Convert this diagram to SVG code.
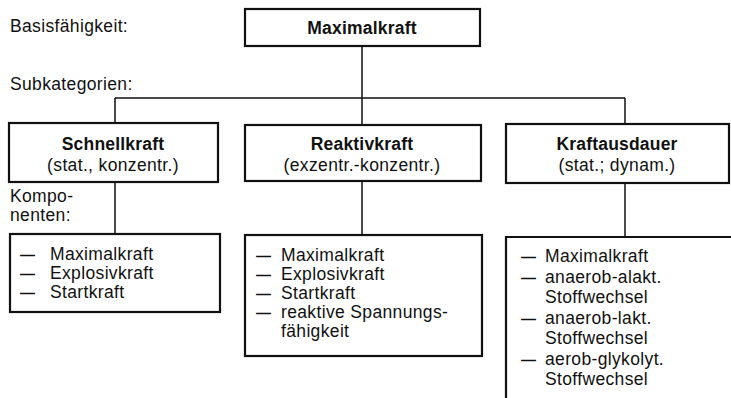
<svg xmlns="http://www.w3.org/2000/svg" width="731" height="398" viewBox="0 0 731 398">
<style>
text{font-family:"Liberation Sans",Arial,sans-serif;font-size:17.5px;fill:#111;letter-spacing:0.35px}
.b{font-weight:bold;text-anchor:middle;letter-spacing:0.2px}
.c{text-anchor:middle}
.d{font-size:15px;font-weight:bold}
.box{fill:#fff;stroke:#111;stroke-width:2.2}
.ln{fill:none;stroke:#111;stroke-width:1.5}
</style>
<rect width="731" height="398" fill="#fff"/>
<g id="labels">
<text x="10" y="32">Basisfähigkeit:</text>
<text x="10" y="90">Subkategorien:</text>
<text x="10" y="202">Kompo-</text>
<text x="10" y="221">nenten:</text>
</g>
<g id="connectors">
<path class="ln" d="M362 46V125M115 98H625M115 98V123M625 98V124M115 182V234M362 181V235M625 183V237"/>
</g>
<g id="maximalkraft">
<rect class="box" x="245" y="9" width="235" height="37"/>
<text class="b" x="362" y="34">Maximalkraft</text>
</g>
<g id="schnellkraft">
<rect class="box" x="9" y="123" width="209" height="59"/>
<text class="b" x="113" y="150">Schnellkraft</text>
<text class="c" x="113" y="171">(stat., konzentr.)</text>
</g>
<g id="reaktivkraft">
<rect class="box" x="245" y="125" width="236" height="56"/>
<text class="b" x="362" y="150">Reaktivkraft</text>
<text class="c" x="362" y="171">(exzentr.-konzentr.)</text>
</g>
<g id="kraftausdauer">
<rect class="box" x="506" y="124" width="223" height="59"/>
<text class="b" x="617" y="150">Kraftausdauer</text>
<text class="c" x="617" y="171">(stat.; dynam.)</text>
</g>
<g id="komp-schnellkraft">
<rect class="box" x="10" y="234" width="210" height="78"/>
<text y="260"><tspan class="d" x="20">—</tspan><tspan x="50">Maximalkraft</tspan></text>
<text y="279"><tspan class="d" x="20">—</tspan><tspan x="50">Explosivkraft</tspan></text>
<text y="298"><tspan class="d" x="20">—</tspan><tspan x="50">Startkraft</tspan></text>
</g>
<g id="komp-reaktivkraft">
<rect class="box" x="245" y="235" width="237" height="121"/>
<text y="261"><tspan class="d" x="256">—</tspan><tspan x="281">Maximalkraft</tspan></text>
<text y="280"><tspan class="d" x="256">—</tspan><tspan x="281">Explosivkraft</tspan></text>
<text y="299"><tspan class="d" x="256">—</tspan><tspan x="281">Startkraft</tspan></text>
<text y="318"><tspan class="d" x="256">—</tspan><tspan x="281">reaktive Spannungs-</tspan></text>
<text x="281" y="337">fähigkeit</text>
</g>
<g id="komp-kraftausdauer">
<path class="box" d="M740 237H506V400"/>
<text y="262"><tspan class="d" x="521">—</tspan><tspan x="545">Maximalkraft</tspan></text>
<text y="282.5"><tspan class="d" x="521">—</tspan><tspan x="545">anaerob-alakt.</tspan></text>
<text x="545" y="303">Stoffwechsel</text>
<text y="323.5"><tspan class="d" x="521">—</tspan><tspan x="545">anaerob-lakt.</tspan></text>
<text x="545" y="344">Stoffwechsel</text>
<text y="364.5"><tspan class="d" x="521">—</tspan><tspan x="545">aerob-glykolyt.</tspan></text>
<text x="545" y="385">Stoffwechsel</text>
</g>
</svg>
